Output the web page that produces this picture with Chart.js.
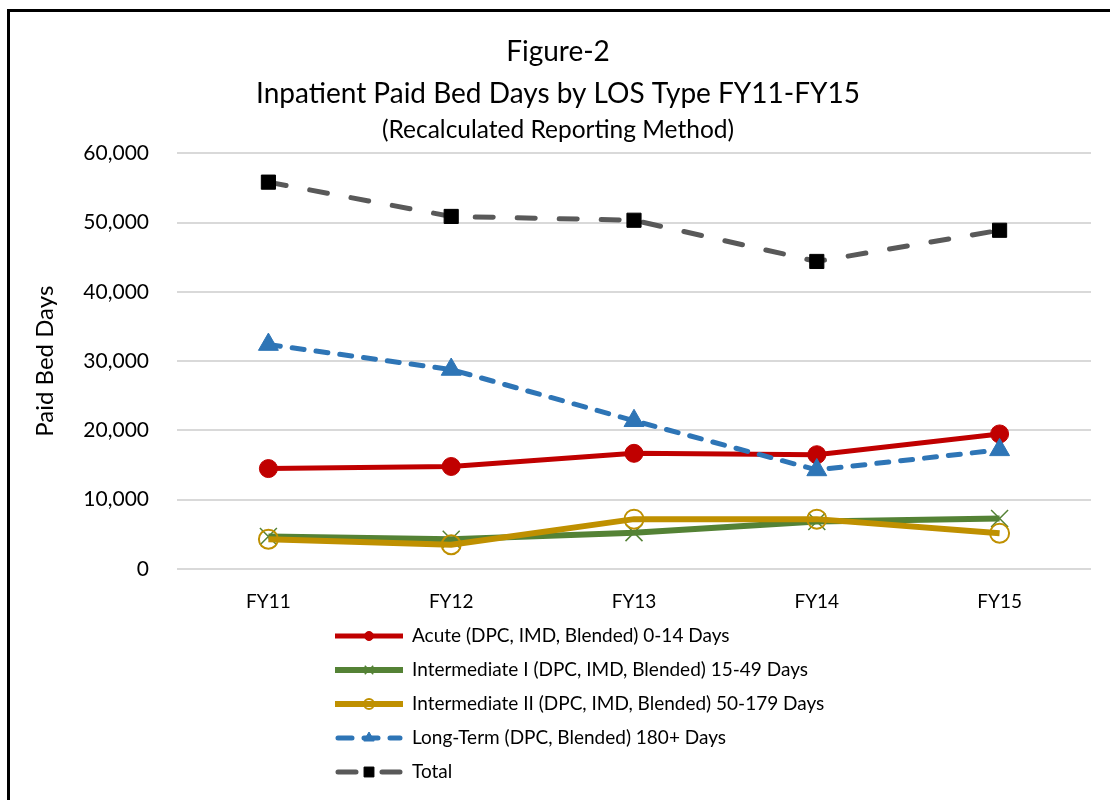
<!DOCTYPE html>
<html>
<head>
<meta charset="utf-8">
<script src="https://cdn.jsdelivr.net/npm/chart.js@4/dist/chart.umd.min.js"></script>
<style>
  html, body { margin: 0; padding: 0; background: #fff; }
  #wrap { width: 1110px; height: 800px; position: relative; }
</style>
</head>
<body>
<div id="wrap"><canvas id="c" width="1110" height="800"></canvas></div>
<script>
const categories = ['FY11', 'FY12', 'FY13', 'FY14', 'FY15'];
const acute = [14500, 14800, 16700, 16500, 19500];
const intermediateI = [4700, 4300, 5250, 6850, 7300];
const intermediateII = [4300, 3500, 7200, 7200, 5150];
const longTerm = [32400, 28800, 21400, 14300, 17200];
const total = [55850, 50900, 50350, 44400, 48900];
const seriesNames = [
  'Acute (DPC, IMD, Blended) 0-14 Days',
  'Intermediate I (DPC, IMD, Blended) 15-49 Days',
  'Intermediate II (DPC, IMD, Blended) 50-179 Days',
  'Long-Term (DPC, Blended) 180+ Days',
  'Total'
];
const titleLines = ['Figure-2', 'Inpatient Paid Bed Days by LOS Type FY11-FY15'];
const subtitleText = '(Recalculated Reporting Method)';
const yAxisTitle = 'Paid Bed Days';

const FONT = 'Lato, "Open Sans", sans-serif';

const frameAndBg = {
  id: 'frameAndBg',
  beforeDraw(chart) {
    const ctx = chart.ctx;
    ctx.save();
    ctx.fillStyle = '#fff';
    ctx.fillRect(0, 0, chart.width, chart.height);
    ctx.strokeStyle = '#000';
    ctx.lineWidth = 3;
    ctx.beginPath();
    ctx.moveTo(8.5, 820);
    ctx.lineTo(8.5, 10.5);
    ctx.lineTo(1130, 10.5);
    ctx.stroke();
    ctx.restore();
  }
};

const customLegend = {
  id: 'customLegend',
  afterDraw(chart) {
    const ctx = chart.ctx;
    const x0 = 335, len = 68, textX = 412, y0 = 636, gap = 34;
    const legendRadius = [4.5, 6, 5, 6, 7];
    ctx.save();
    chart.data.datasets.forEach((ds, i) => {
      const y = y0 + i * gap;
      ctx.save();
      ctx.strokeStyle = ds.borderColor;
      ctx.lineWidth = ds.borderWidth;
      ctx.lineCap = ds.borderCapStyle || 'butt';
      if (ds.borderDash && ds.borderDash.length) {
        ctx.setLineDash(ds.legendDash || ds.borderDash);
      }
      ctx.beginPath();
      ctx.moveTo(x0 + (ds.borderCapStyle === 'round' ? 3 : 0), y);
      ctx.lineTo(x0 + len - (ds.borderCapStyle === 'round' ? 3 : 0), y);
      ctx.stroke();
      ctx.restore();
      ctx.save();
      ctx.fillStyle = ds.pointBackgroundColor;
      ctx.strokeStyle = ds.pointBorderColor;
      ctx.lineWidth = ds.pointBorderWidth;
      Chart.helpers.drawPoint(ctx, {
        pointStyle: ds.pointStyle,
        radius: legendRadius[i],
        borderWidth: ds.pointBorderWidth,
        rotation: 0
      }, x0 + len / 2, y);
      ctx.restore();
      ctx.fillStyle = '#000';
      ctx.font = '19px ' + FONT;
      ctx.textBaseline = 'middle';
      ctx.textAlign = 'left';
      ctx.fillText(ds.label, textX, y);
    });
    ctx.restore();
  }
};

const datasets = [
  {
    label: seriesNames[0], data: acute, order: 5,
    borderColor: '#C00000', borderWidth: 5,
    pointStyle: 'circle', pointRadius: 9, pointHoverRadius: 9,
    pointBackgroundColor: '#C00000', pointBorderColor: '#C00000', pointBorderWidth: 1
  },
  {
    label: seriesNames[1], data: intermediateI, order: 4,
    borderColor: '#548235', borderWidth: 6,
    pointStyle: 'crossRot', pointRadius: 12, pointHoverRadius: 12,
    pointBackgroundColor: '#548235', pointBorderColor: '#548235', pointBorderWidth: 1.5
  },
  {
    label: seriesNames[2], data: intermediateII, order: 3,
    borderColor: '#BF9000', borderWidth: 6,
    pointStyle: 'circle', pointRadius: 9.5, pointHoverRadius: 9.5,
    pointBackgroundColor: 'rgba(0,0,0,0)', pointBorderColor: '#BF9000', pointBorderWidth: 2
  },
  {
    label: seriesNames[3], data: longTerm, order: 2,
    borderColor: '#2E75B6', borderWidth: 5, borderDash: [12, 12], borderCapStyle: 'round',
    legendDash: [14, 12],
    pointStyle: 'triangle', pointRadius: 11.5, pointHoverRadius: 11.5,
    pointBackgroundColor: '#2E75B6', pointBorderColor: '#2E75B6', pointBorderWidth: 1
  },
  {
    label: seriesNames[4], data: total, order: 1,
    borderColor: '#595959', borderWidth: 5, borderDash: [18, 24], borderCapStyle: 'round',
    legendDash: [18, 26],
    pointStyle: 'rect', pointRadius: 10, pointHoverRadius: 10,
    pointBackgroundColor: '#000000', pointBorderColor: '#000000', pointBorderWidth: 1
  }
];

new Chart(document.getElementById('c'), {
  type: 'line',
  data: { labels: categories, datasets: datasets },
  plugins: [frameAndBg, customLegend],
  options: {
    responsive: false,
    animation: false,
    devicePixelRatio: 1,
    layout: { padding: { left: 25, right: 19, top: 0, bottom: 186 } },
    elements: { line: { tension: 0 } },
    plugins: {
      legend: { display: false },
      tooltip: { enabled: false },
      title: {
        display: true,
        text: titleLines,
        color: '#000',
        font: { family: FONT, size: 28, weight: 'normal', lineHeight: 1.5 },
        padding: { top: 31, bottom: 0 }
      },
      subtitle: {
        display: true,
        text: subtitleText,
        color: '#000',
        font: { family: FONT, size: 24.5, weight: 'normal', lineHeight: 1.2 },
        padding: { top: 0, bottom: 9 }
      }
    },
    scales: {
      x: {
        offset: true,
        afterFit(scale) { scale.height = 45; },
        grid: { display: false, drawTicks: false },
        border: { display: false },
        ticks: {
          color: '#000', padding: 21,
          font: { family: FONT, size: 19 }
        }
      },
      y: {
        min: 0, max: 60000,
        afterFit(scale) { scale.width = 152; },
        grid: { color: '#D9D9D9', lineWidth: 2, drawTicks: false },
        border: { display: false },
        ticks: {
          stepSize: 10000, color: '#000', padding: 28,
          font: { family: FONT, size: 21 },
          callback: (v) => Number(v).toLocaleString('en-US')
        },
        title: {
          display: true, text: yAxisTitle, color: '#000',
          font: { family: FONT, size: 24 },
          padding: { top: 6, bottom: 0 }
        }
      }
    }
  }
});
</script>
</body>
</html>
